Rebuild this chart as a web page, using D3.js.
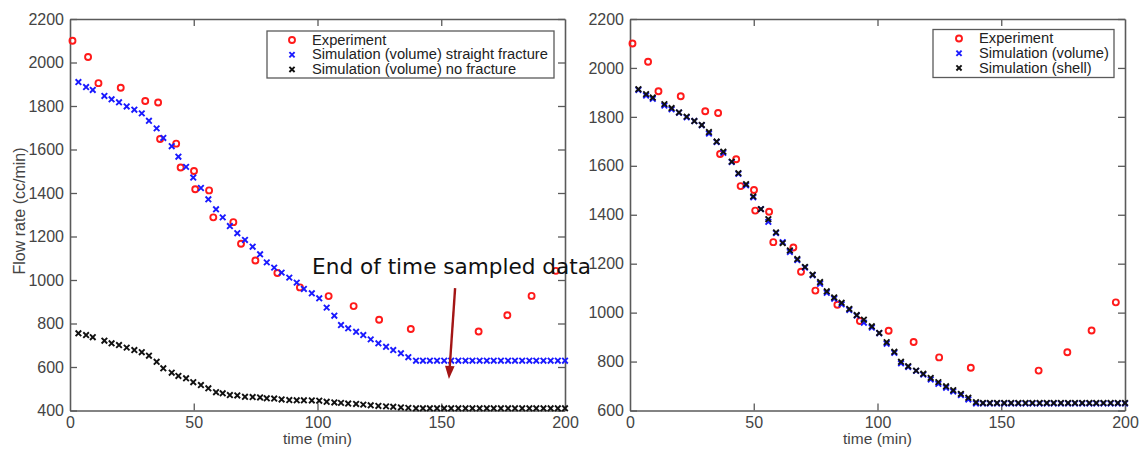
<!DOCTYPE html>
<html><head><meta charset="utf-8">
<script src="https://cdn.jsdelivr.net/npm/d3@7"></script>
<style>body{margin:0;background:#fff} svg{display:block}</style>
</head><body><svg id="c" width="1140" height="450"></svg>
<script>
// ---------------- data ----------------
const xTicks = [0, 50, 100, 150, 200];
const leftYTicks = [400, 600, 800, 1000, 1200, 1400, 1600, 1800, 2000, 2200];
const rightYTicks = [600, 800, 1000, 1200, 1400, 1600, 1800, 2000, 2200];

const expTime = [1, 7.3, 11.5, 20.5, 30.4, 35.6, 36.4, 42.9, 44.7, 50.1, 50.6, 56.2, 57.9, 66, 69.1, 74.9, 83.8, 92.9, 104.5, 114.6, 124.9, 137.7, 165.1, 176.7, 186.5, 196.3];
const expFlow = [2100, 2025, 1905, 1884, 1823, 1816, 1648, 1627, 1517, 1501, 1417, 1412, 1288, 1266, 1167, 1090, 1032, 966, 926, 880, 817, 775, 763, 838, 927, 1042];

const simTime = [3.4, 6.5, 9.2, 13.9, 16.8, 19.8, 22.9, 26.0, 29.0, 31.9, 35.0, 37.7, 41.1, 43.8, 46.9, 49.8, 52.9, 55.9, 59.0, 61.7,
  64.6, 67.6, 70.7, 73.8, 76.8, 79.5, 82.5, 85.5, 88.6, 91.6, 94.5, 97.7, 100.7, 103.7, 106.8, 109.5, 112.4, 115.6, 118.5, 121.5,
  124.6, 127.7, 130.6, 133.7, 136.7, 139.8, 142.6, 145.4, 148.3, 151.2, 154.0, 156.9, 159.8, 162.6, 165.5, 168.4, 171.2, 174.1,
  177.0, 179.8, 182.7, 185.6, 188.4, 191.3, 194.2, 197.1, 200.0];
const simVolume = [1910, 1887, 1874, 1846, 1831, 1817, 1798, 1783, 1766, 1732, 1697, 1653, 1615, 1567, 1520, 1471, 1423, 1371, 1325, 1288,
  1248, 1215, 1184, 1153, 1118, 1081, 1057, 1034, 1011, 988, 959, 939, 916, 873, 836, 793, 778, 762, 747, 727,
  709, 693, 678, 663, 645, 629, 629, 629, 629, 629, 629, 629, 629, 629, 629, 629, 629, 629,
  629, 629, 629, 629, 629, 629, 629, 629, 629];
const simNoFracture = [755, 747, 737, 721, 709, 701, 689, 678, 668, 652, 624, 594, 574, 559, 548, 530, 517, 502, 484, 479,
  471, 469, 463, 462, 460, 456, 455, 451, 448, 447, 447, 446, 445, 440, 437, 435, 432, 430, 427, 424,
  421, 419, 417, 414, 412, 410, 410, 410, 410, 410, 410, 410, 410, 410, 410, 410, 410, 410,
  410, 410, 410, 410, 410, 410, 410, 410, 410];
const simShell = [1913, 1893, 1879, 1852, 1836, 1818, 1801, 1783, 1767, 1738, 1699, 1658, 1617, 1570, 1525, 1475, 1423, 1382, 1328, 1284,
  1254, 1219, 1187, 1155, 1125, 1087, 1062, 1040, 1015, 990, 971, 944, 917, 879, 840, 799, 781, 763, 750, 733,
  716, 699, 683, 668, 652, 634, 631, 631, 631, 631, 631, 631, 631, 631, 631, 631, 631, 631,
  631, 631, 631, 631, 631, 631, 631, 631, 631];

const leftLegend = ["Experiment", "Simulation (volume) straight fracture", "Simulation (volume) no fracture"];
const rightLegend = ["Experiment", "Simulation (volume)", "Simulation (shell)"];
const annotationText = "End of time sampled data";
const annotationAt = {t: 97.8, v: 1028};
const arrowFrom = {t: 155.6, v: 963};
const arrowTo = {t: 153.1, v: 545};

// ---------------- drawing ----------------
const svg = d3.select('#c');
const defs = svg.append('defs');
const pat = defs.append('pattern').attr('id', 'dots').attr('patternUnits', 'userSpaceOnUse')
  .attr('width', 2).attr('height', 3);
pat.append('rect').attr('width', 2).attr('height', 1.4).attr('fill', '#555');

const AX = '#5a5a5a', TXT = '#444';
const RED = '#ff1a1a', BLUE = '#1a1aff', BLACK = '#111';

function xMark(g, x, y, color, s = 2.8) {
  g.append('path')
    .attr('d', `M${x - s},${y - s}L${x + s},${y + s}M${x - s},${y + s}L${x + s},${y - s}`)
    .attr('stroke', color).attr('stroke-width', 1.9).attr('fill', 'none');
}
function oMark(g, x, y) {
  g.append('circle').attr('cx', x).attr('cy', y).attr('r', 3)
    .attr('fill', 'none').attr('stroke', RED).attr('stroke-width', 1.9);
}

function panel(cfg) {
  const x = d3.scaleLinear().domain([0, 200]).range([cfg.x0, cfg.x1]);
  const y = d3.scaleLinear().domain(cfg.yDom).range([410.5, 19]);
  const g = svg.append('g');

  const styleAxis = sel => {
    sel.selectAll('path.domain').attr('stroke', AX).attr('stroke-width', 1.6);
    sel.selectAll('.tick line').attr('stroke', AX).attr('stroke-width', 1.3);
    sel.selectAll('.tick text').attr('fill', TXT).style('font-family', 'Liberation Sans, Arial, sans-serif').style('font-size', '16px');
  };
  g.append('g').attr('transform', `translate(0,410.5)`)
    .call(d3.axisBottom(x).tickValues(xTicks).tickSize(-7).tickSizeOuter(0).tickPadding(6))
    .call(styleAxis);
  g.append('g').attr('transform', `translate(0,19)`)
    .call(d3.axisTop(x).tickValues(xTicks).tickSize(-7).tickSizeOuter(0).tickFormat(''))
    .call(styleAxis);
  g.append('g').attr('transform', `translate(${cfg.x0},0)`)
    .call(d3.axisLeft(y).tickValues(cfg.yTicks).tickSize(-7).tickSizeOuter(0).tickPadding(6).tickFormat(d3.format('d')))
    .call(styleAxis);
  g.append('g').attr('transform', `translate(${cfg.x1},0)`)
    .call(d3.axisRight(y).tickValues(cfg.yTicks).tickSize(-7).tickSizeOuter(0).tickFormat(''))
    .call(styleAxis);
  g.selectAll('.tick').filter(d => d === 0 || d === 200).select('line').remove();

  g.append('text').attr('x', (cfg.x0 + cfg.x1) / 2).attr('y', 444)
    .attr('text-anchor', 'middle').attr('fill', TXT)
    .style('font-family', 'Liberation Sans, Arial, sans-serif').style('font-size', '15.5px')
    .text('time (min)');

  const m = g.append('g');
  expTime.forEach((t, i) => oMark(m, x(t), y(expFlow[i])));
  cfg.series.forEach(s => simTime.forEach((t, i) => xMark(m, x(t), y(s.values[i]), s.color)));

  const L = cfg.legend;
  const lg = g.append('g');
  lg.append('rect').attr('x', L.x).attr('y', L.y).attr('width', L.w).attr('height', L.h)
    .attr('fill', '#fff').attr('stroke', AX).attr('stroke-width', 1.3);
  const colors = [RED].concat(cfg.series.map(s => s.color));
  L.labels.forEach((lab, i) => {
    const cy = L.y + 9 + i * 14.7;
    if (i === 0) oMark(lg, L.mx, cy); else xMark(lg, L.mx, cy, colors[i], 2.6);
    lg.append('text').attr('x', L.tx).attr('y', cy + 4.6).attr('fill', '#222')
      .style('font-family', 'Liberation Sans, Arial, sans-serif').style('font-size', '14.7px')
      .text(lab);
  });
  return {x, y};
}

svg.append('text').attr('transform', 'translate(25,211) rotate(-90)').attr('text-anchor', 'middle')
  .attr('fill', TXT).style('font-family', 'Liberation Sans, Arial, sans-serif').style('font-size', '16px')
  .text('Flow rate (cc/min)');

defs.append('clipPath').attr('id', 'rclip').append('rect').attr('x', 579).attr('y', 140).attr('width', 8).attr('height', 145);
svg.append('text').attr('clip-path', 'url(#rclip)')
  .attr('transform', 'translate(588,214) rotate(-90)').attr('text-anchor', 'middle')
  .attr('fill', 'url(#dots)').style('font-family', 'Liberation Sans, Arial, sans-serif').style('font-size', '15px')
  .text('Flow rate (cc/min)');

const L1 = panel({
  x0: 70, x1: 565, yDom: [400, 2200], yTicks: leftYTicks,
  series: [{values: simVolume, color: BLUE}, {values: simNoFracture, color: BLACK}],
  legend: {x: 267, y: 31, w: 287, h: 47, mx: 292, tx: 312, labels: leftLegend}
});
panel({
  x0: 630, x1: 1125, yDom: [600, 2200], yTicks: rightYTicks,
  series: [{values: simVolume, color: BLUE}, {values: simShell, color: BLACK}],
  legend: {x: 933, y: 29.5, w: 181, h: 48, mx: 959, tx: 979, labels: rightLegend}
});

svg.append('text').attr('x', L1.x(annotationAt.t)).attr('y', L1.y(annotationAt.v))
  .attr('fill', '#111').style('font-family', 'DejaVu Sans, sans-serif').style('font-size', '21.6px')
  .text(annotationText);
const ax1 = L1.x(arrowFrom.t), ay1 = L1.y(arrowFrom.v), ax2 = L1.x(arrowTo.t), ay2 = L1.y(arrowTo.v);
const ang = Math.atan2(ay2 - ay1, ax2 - ax1);
const hl = 13, hw = 4.8;
const bx = ax2 - hl * Math.cos(ang), by = ay2 - hl * Math.sin(ang);
svg.append('line').attr('x1', ax1).attr('y1', ay1).attr('x2', bx).attr('y2', by)
  .attr('stroke', '#a31515').attr('stroke-width', 2.4);
svg.append('path')
  .attr('d', `M${ax2},${ay2}L${bx + hw * Math.sin(ang)},${by - hw * Math.cos(ang)}L${bx - hw * Math.sin(ang)},${by + hw * Math.cos(ang)}Z`)
  .attr('fill', '#a31515');
</script>
</body></html>
